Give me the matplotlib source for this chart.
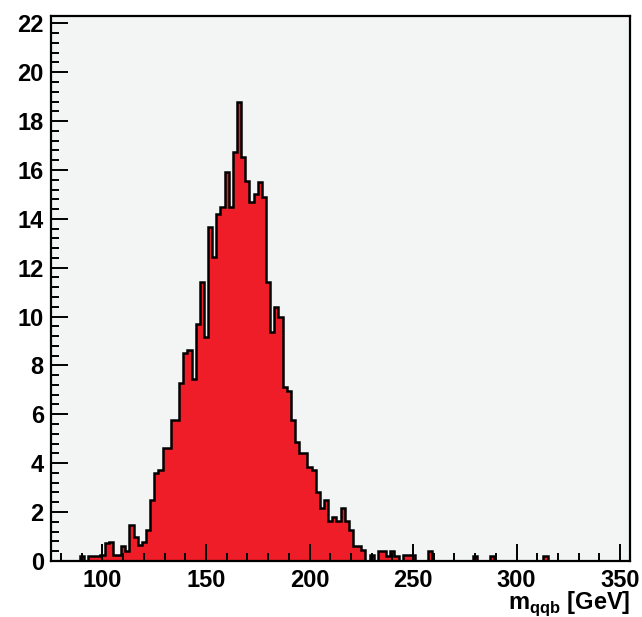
"""ROOT-style histogram of the reconstructed m_qqb mass."""

import numpy as np
import matplotlib
matplotlib.use("Agg")
import matplotlib.pyplot as plt

# histogram binning: 140 bins of 2 GeV from 75 to 355
x_min, x_max, bin_width = 75, 355, 2

# bin contents keyed by lower bin edge (all other bins are empty)
lower_edges = [
    89, 93, 95, 97, 99, 101, 103, 105, 107, 109, 111, 113, 115, 117, 119,
    121, 123, 125, 127, 129, 131, 133, 135, 137, 139, 141, 143, 145, 147, 149,
    151, 153, 155, 157, 159, 161, 163, 165, 167, 169, 171, 173, 175, 177, 179,
    181, 183, 185, 187, 189, 191, 193, 195, 197, 199, 201, 203, 205, 207, 209,
    211, 213, 215, 217, 219, 221, 223, 225, 229, 233, 235, 237, 239, 241, 245,
    247, 249, 257, 279, 287, 313,
]
contents = [
    0.2, 0.2, 0.2, 0.2, 0.25, 0.72, 0.76, 0.25, 0.25, 0.61, 0.42, 1.47, 0.97, 0.63, 0.76,
    1.27, 2.49, 3.6, 3.7, 4.6, 4.6, 5.76, 5.76, 7.3, 8.5, 8.65, 7.45, 9.7, 11.4, 9.15,
    13.67, 12.42, 14.2, 14.5, 15.9, 14.5, 16.75, 18.8, 16.55, 15.55, 14.7, 15.0, 15.5, 14.9, 11.4,
    9.35, 10.4, 10.0, 7.1, 6.95, 5.75, 4.85, 4.4, 4.4, 3.85, 3.7, 2.83, 2.15, 2.5, 1.63,
    1.8, 1.63, 2.15, 1.63, 1.27, 0.6, 0.6, 0.45, 0.25, 0.4, 0.4, 0.2, 0.4, 0.2, 0.25,
    0.25, 0.25, 0.4, 0.2, 0.2, 0.2,
]

y_max = 22.3
x_label = r"m$_{\mathbf{qqb}}$ [GeV]"

plt.rcParams["font.family"] = ["Liberation Sans", "DejaVu Sans"]
plt.rcParams["font.weight"] = "bold"
plt.rcParams["mathtext.fontset"] = "custom"
plt.rcParams["mathtext.rm"] = "Liberation Sans:bold"
plt.rcParams["mathtext.bf"] = "Liberation Sans:bold"


def main() -> None:
    edges = np.arange(x_min, x_max + bin_width, bin_width)
    centers = np.array(lower_edges) + bin_width / 2

    fig = plt.figure(figsize=(6.42, 6.17), dpi=100)
    ax = fig.add_axes([0.079, 0.091, 0.903, 0.883])
    ax.set_facecolor("#f3f5f5")

    ax.hist(centers, bins=edges, weights=contents, histtype="stepfilled",
            facecolor="#ee1d27", edgecolor="black", linewidth=1.8)

    ax.set_xlim(x_min, x_max)
    ax.set_ylim(0, y_max)
    ax.set_xticks(np.arange(100, 351, 50))
    ax.set_xticks(np.arange(80, 355, 10), minor=True)
    ax.set_yticks(np.arange(0, 23, 2))
    ax.set_yticks(np.arange(0, 22.3, 0.4), minor=True)

    ax.tick_params(which="both", direction="in", top=False, right=False,
                   width=1.4, labelsize=17)
    ax.tick_params(which="major", length=12)
    ax.tick_params(which="minor", length=6)
    ax.tick_params(axis="x", pad=6)
    ax.tick_params(axis="y", pad=5)
    for label in ax.get_xticklabels() + ax.get_yticklabels():
        label.set_fontweight("bold")
    for spine in ax.spines.values():
        spine.set_linewidth(1.6)

    ax.set_xlabel(x_label, loc="right", fontsize=17, fontweight="bold",
                  labelpad=-2)

    fig.savefig("out.png", dpi=100)


if __name__ == "__main__":
    main()
